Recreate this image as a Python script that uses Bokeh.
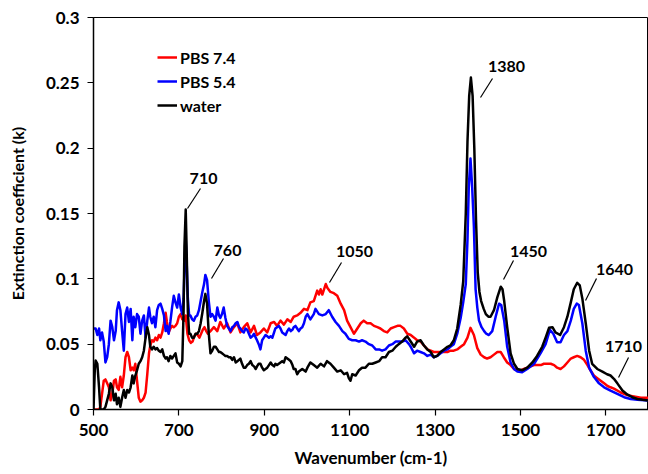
from bokeh.plotting import figure
from bokeh.models import Range1d, FixedTicker, Legend, LegendItem, ColumnDataSource
from bokeh.core.properties import value
from bokeh.embed import file_html
from bokeh.resources import INLINE

# ---------------- data ----------------
pbs74_wn = [500, 505, 509, 513, 516, 520, 524, 528, 532, 536, 540, 544, 548, 552, 555, 559, 563, 567, 571, 575,
            579, 583, 587, 591, 594, 598, 602, 606, 610, 614, 618, 622, 626, 630, 633, 637, 641, 645, 649, 653,
            657, 661, 665, 669, 672, 676, 680, 684, 688, 692, 696, 700, 704, 708, 712, 716, 720, 724, 728, 732,
            736, 740, 744, 748, 752, 756, 760, 764, 768, 774, 782, 790, 797, 805, 813, 821, 829, 837, 844, 852,
            860, 868, 876, 883, 891, 899, 907, 915, 923, 930, 938, 946, 954, 962, 969, 977, 985, 993, 1001, 1008,
            1016, 1024, 1028, 1032, 1036, 1044, 1048, 1055, 1063, 1071, 1079, 1087, 1094, 1102, 1110, 1118, 1126,
            1133, 1141, 1149, 1157, 1165, 1172, 1180, 1188, 1196, 1204, 1212, 1219, 1227, 1235, 1243, 1251, 1258,
            1266, 1274, 1282, 1290, 1297, 1305, 1313, 1321, 1329, 1336, 1344, 1352, 1360, 1368, 1376, 1383, 1391,
            1399, 1407, 1415, 1422, 1430, 1438, 1446, 1454, 1461, 1469, 1477, 1485, 1493, 1500, 1508, 1516, 1524,
            1532, 1540, 1548, 1555, 1563, 1571, 1579, 1586, 1594, 1602, 1610, 1618, 1625, 1633, 1641, 1649, 1657,
            1664, 1672, 1680, 1688, 1696, 1704, 1711, 1719, 1735, 1750, 1766, 1782, 1800]
pbs74_k = [0.0, 0.0, 0.0, 0.0, 0.002, 0.012, 0.022, 0.023, 0.020, 0.017, 0.007, 0.012, 0.022, 0.023, 0.017, 0.015,
           0.025, 0.017, 0.026, 0.040, 0.044, 0.040, 0.030, 0.032, 0.030, 0.035, 0.022, 0.009, 0.006, 0.007, 0.009,
           0.013, 0.027, 0.043, 0.049, 0.053, 0.052, 0.055, 0.053, 0.057, 0.055, 0.059, 0.066, 0.074, 0.067, 0.059,
           0.062, 0.064, 0.063, 0.064, 0.066, 0.071, 0.073, 0.069, 0.068, 0.072, 0.058, 0.053, 0.051, 0.052, 0.056,
           0.058, 0.057, 0.055, 0.058, 0.061, 0.063, 0.060, 0.058, 0.060, 0.063, 0.060, 0.067, 0.062, 0.066, 0.059,
           0.063, 0.066, 0.059, 0.063, 0.066, 0.059, 0.064, 0.057, 0.059, 0.062, 0.059, 0.066, 0.067, 0.064, 0.068,
           0.065, 0.069, 0.067, 0.071, 0.072, 0.074, 0.077, 0.076, 0.082, 0.083, 0.091, 0.088, 0.092, 0.088, 0.096,
           0.093, 0.090, 0.089, 0.087, 0.081, 0.076, 0.068, 0.063, 0.058, 0.062, 0.066, 0.068, 0.066, 0.066, 0.064,
           0.063, 0.062, 0.060, 0.059, 0.062, 0.063, 0.064, 0.064, 0.062, 0.058, 0.057, 0.055, 0.053, 0.052, 0.049,
           0.046, 0.045, 0.044, 0.044, 0.044, 0.044, 0.044, 0.045, 0.045, 0.046, 0.048, 0.050, 0.055, 0.0625, 0.057,
           0.047, 0.042, 0.040, 0.039, 0.040, 0.042, 0.044, 0.044, 0.040, 0.036, 0.034, 0.031, 0.030, 0.030, 0.031,
           0.032, 0.033, 0.034, 0.034, 0.034, 0.035, 0.035, 0.035, 0.034, 0.032, 0.031, 0.033, 0.036, 0.039, 0.040,
           0.041, 0.040, 0.038, 0.034, 0.030, 0.026, 0.024, 0.022, 0.020, 0.018, 0.017, 0.016, 0.013, 0.011, 0.010,
           0.009, 0.009]

pbs54_wn = [500, 505, 509, 513, 516, 520, 524, 528, 532, 536, 540, 544, 548, 552, 555, 559, 563, 567, 571, 575,
            579, 583, 587, 591, 594, 598, 602, 606, 610, 614, 618, 622, 626, 630, 633, 637, 641, 645, 649, 653,
            657, 661, 665, 669, 672, 676, 680, 684, 688, 692, 696, 700, 704, 708, 711, 714, 716, 718, 721, 724,
            727, 731, 735, 739, 743, 747, 751, 755, 759, 762, 766, 770, 774, 778, 782, 786, 790, 794, 797, 801,
            805, 809, 813, 817, 821, 825, 829, 833, 837, 841, 844, 848, 852, 856, 860, 864, 868, 872, 876, 880,
            883, 887, 891, 895, 899, 903, 907, 911, 915, 919, 923, 926, 930, 934, 938, 942, 946, 950, 954, 958,
            962, 966, 969, 973, 977, 981, 985, 989, 993, 997, 1001, 1008, 1016, 1020, 1028, 1036, 1044, 1051, 1059,
            1067, 1075, 1083, 1090, 1098, 1106, 1114, 1122, 1129, 1137, 1145, 1153, 1161, 1169, 1176, 1184, 1192,
            1200, 1208, 1215, 1223, 1231, 1239, 1243, 1251, 1258, 1266, 1274, 1282, 1290, 1297, 1305, 1313, 1321,
            1329, 1336, 1344, 1352, 1360, 1366, 1372, 1376, 1379, 1383, 1387, 1391, 1395, 1399, 1403, 1409, 1415,
            1420, 1426, 1434, 1442, 1450, 1455, 1462, 1469, 1477, 1485, 1493, 1504, 1516, 1532, 1547, 1559, 1569,
            1577, 1586, 1594, 1602, 1610, 1618, 1625, 1632, 1637, 1645, 1653, 1661, 1672, 1684, 1696, 1711, 1727,
            1743, 1758, 1774, 1800]
pbs54_k = [0.062, 0.062, 0.057, 0.062, 0.053, 0.059, 0.052, 0.036, 0.040, 0.050, 0.068, 0.063, 0.053, 0.060, 0.076,
           0.082, 0.076, 0.060, 0.045, 0.073, 0.078, 0.067, 0.077, 0.053, 0.071, 0.063, 0.073, 0.071, 0.058, 0.068,
           0.072, 0.055, 0.068, 0.078, 0.071, 0.066, 0.071, 0.063, 0.076, 0.080, 0.081, 0.077, 0.072, 0.060, 0.064,
           0.058, 0.067, 0.078, 0.087, 0.082, 0.078, 0.088, 0.078, 0.073, 0.085, 0.115, 0.130, 0.115, 0.085, 0.072,
           0.072, 0.069, 0.068, 0.071, 0.072, 0.076, 0.083, 0.090, 0.096, 0.103, 0.099, 0.083, 0.071, 0.073, 0.071,
           0.068, 0.078, 0.072, 0.070, 0.073, 0.078, 0.070, 0.064, 0.062, 0.060, 0.063, 0.064, 0.066, 0.067, 0.063,
           0.062, 0.060, 0.059, 0.062, 0.061, 0.058, 0.055, 0.056, 0.058, 0.055, 0.053, 0.050, 0.046, 0.053, 0.055,
           0.057, 0.056, 0.055, 0.056, 0.055, 0.059, 0.062, 0.063, 0.064, 0.062, 0.059, 0.058, 0.057, 0.060, 0.062,
           0.060, 0.061, 0.063, 0.064, 0.062, 0.060, 0.062, 0.063, 0.066, 0.071, 0.073, 0.069, 0.073, 0.077, 0.073,
           0.072, 0.073, 0.076, 0.071, 0.067, 0.064, 0.060, 0.058, 0.054, 0.053, 0.053, 0.052, 0.053, 0.052, 0.050,
           0.049, 0.046, 0.046, 0.045, 0.046, 0.049, 0.050, 0.052, 0.052, 0.052, 0.053, 0.050, 0.048, 0.043, 0.045,
           0.044, 0.043, 0.041, 0.042, 0.040, 0.041, 0.043, 0.045, 0.046, 0.048, 0.050, 0.058, 0.070, 0.082, 0.096,
           0.130, 0.170, 0.192, 0.170, 0.140, 0.092, 0.078, 0.068, 0.063, 0.060, 0.058, 0.057, 0.060, 0.071, 0.081,
           0.080, 0.068, 0.048, 0.036, 0.031, 0.029, 0.0285, 0.031, 0.035, 0.043, 0.050, 0.061, 0.058, 0.0515, 0.0515,
           0.057, 0.060, 0.068, 0.077, 0.081, 0.080, 0.066, 0.045, 0.032, 0.025, 0.020, 0.017, 0.0145, 0.012, 0.0094,
           0.008, 0.0074, 0.0069]

water_wn = [500, 503, 505, 509, 513, 516, 520, 524, 528, 532, 536, 540, 544, 548, 552, 555, 559, 563, 567, 571,
            575, 579, 583, 587, 591, 594, 598, 602, 606, 610, 614, 618, 622, 626, 630, 633, 637, 641, 645, 649,
            653, 657, 661, 665, 669, 672, 676, 680, 684, 688, 692, 696, 700, 704, 708, 711, 713, 716, 718, 721,
            724, 727, 731, 735, 739, 743, 747, 751, 755, 759, 762, 766, 770, 774, 778, 782, 786, 790, 794, 797,
            801, 805, 809, 813, 817, 821, 825, 829, 833, 837, 841, 844, 848, 852, 856, 860, 864, 868, 872, 876,
            880, 883, 887, 891, 895, 899, 903, 907, 911, 915, 919, 923, 926, 930, 934, 938, 942, 946, 950, 954,
            958, 962, 966, 969, 973, 977, 981, 985, 989, 993, 997, 1001, 1008, 1016, 1024, 1032, 1040, 1047, 1055,
            1063, 1071, 1079, 1087, 1094, 1098, 1102, 1106, 1114, 1122, 1129, 1137, 1145, 1153, 1161, 1169, 1176,
            1184, 1192, 1200, 1208, 1215, 1223, 1231, 1235, 1243, 1251, 1258, 1266, 1274, 1282, 1290, 1297, 1305,
            1313, 1321, 1329, 1336, 1344, 1352, 1360, 1366, 1372, 1376, 1380, 1384, 1388, 1392, 1396, 1400, 1404,
            1408, 1414, 1419, 1425, 1430, 1438, 1446, 1454, 1458, 1462, 1469, 1477, 1485, 1493, 1504, 1516, 1528,
            1539, 1551, 1559, 1567, 1575, 1582, 1593, 1602, 1610, 1618, 1625, 1633, 1639, 1645, 1653, 1661, 1668,
            1680, 1692, 1703, 1711, 1719, 1727, 1739, 1750, 1762, 1774, 1786, 1800]
water_k = [0.0, 0.030, 0.0375, 0.035, 0.017, 0.0, 0.0, 0.0, 0.002, 0.007, 0.012, 0.020, 0.017, 0.007, 0.012, 0.004,
           0.009, 0.002, 0.009, 0.015, 0.009, 0.015, 0.013, 0.017, 0.026, 0.020, 0.026, 0.030, 0.035, 0.037, 0.040,
           0.045, 0.055, 0.063, 0.057, 0.048, 0.046, 0.048, 0.046, 0.047, 0.045, 0.044, 0.046, 0.041, 0.039, 0.040,
           0.037, 0.041, 0.039, 0.041, 0.043, 0.036, 0.035, 0.033, 0.037, 0.075, 0.125, 0.153, 0.125, 0.075, 0.058,
           0.058, 0.055, 0.055, 0.058, 0.058, 0.060, 0.066, 0.074, 0.083, 0.0885, 0.081, 0.058, 0.043, 0.045, 0.048,
           0.048, 0.046, 0.044, 0.044, 0.043, 0.042, 0.041, 0.041, 0.040, 0.040, 0.038, 0.040, 0.036, 0.037, 0.038,
           0.039, 0.035, 0.032, 0.032, 0.034, 0.035, 0.037, 0.034, 0.033, 0.031, 0.033, 0.035, 0.035, 0.032, 0.030,
           0.031, 0.032, 0.034, 0.036, 0.034, 0.033, 0.035, 0.034, 0.035, 0.036, 0.037, 0.036, 0.040, 0.039, 0.038,
           0.037, 0.034, 0.031, 0.031, 0.027, 0.029, 0.030, 0.031, 0.030, 0.029, 0.032, 0.036, 0.034, 0.032, 0.035,
           0.033, 0.037, 0.035, 0.032, 0.029, 0.030, 0.027, 0.028, 0.024, 0.022, 0.027, 0.026, 0.030, 0.032, 0.032,
           0.035, 0.035, 0.036, 0.037, 0.040, 0.040, 0.044, 0.045, 0.048, 0.050, 0.052, 0.055, 0.056, 0.052, 0.048,
           0.052, 0.053, 0.049, 0.046, 0.044, 0.040, 0.041, 0.044, 0.046, 0.048, 0.049, 0.053, 0.062, 0.080, 0.098,
           0.150, 0.205, 0.240, 0.254, 0.240, 0.200, 0.145, 0.105, 0.090, 0.083, 0.077, 0.073, 0.071, 0.071, 0.076,
           0.086, 0.094, 0.092, 0.083, 0.063, 0.043, 0.035, 0.031, 0.030, 0.032, 0.036, 0.041, 0.048, 0.055, 0.0625,
           0.063, 0.059, 0.057, 0.063, 0.071, 0.082, 0.092, 0.097, 0.095, 0.085, 0.066, 0.045, 0.035, 0.031, 0.029,
           0.027, 0.026, 0.0235, 0.020, 0.0145, 0.0115, 0.0094, 0.008, 0.0074, 0.0069]

series_names = ["PBS 7.4", "PBS 5.4", "water"]
series_colors = ["#ff0000", "#0000ff", "#000000"]

x_ticks = [500, 700, 900, 1100, 1300, 1500, 1700]
y_ticks = [0, 0.05, 0.1, 0.15, 0.2, 0.25, 0.3]
y_tick_labels = ["0", "0.05", "0.1", "0.15", "0.2", "0.25", "0.3"]

# peak annotations: label, text centre (wavenumber, k), leader line start/end
peak_labels = ["710", "760", "1050", "1380", "1450", "1640", "1710"]
peak_text_x = [757.7, 813.9, 1111.4, 1467.4, 1518.9, 1720.4, 1741.5]
peak_text_y = [0.1768, 0.1217, 0.1209, 0.2625, 0.1209, 0.1071, 0.0482]
lead_x0 = [750.6, 804.5, 1080.9, 1434.6, 1483.8, 1678.2, 1753.2]
lead_y0 = [0.1691, 0.1156, 0.1125, 0.2533, 0.1140, 0.1003, 0.0398]
lead_x1 = [720.2, 776.4, 1052.8, 1406.5, 1460.4, 1652.5, 1729.8]
lead_y1 = [0.1538, 0.1003, 0.0972, 0.2388, 0.0995, 0.0834, 0.0245]

FONT = "Lato"

p = figure(width=648, height=474, output_backend="svg", toolbar_location=None,
           x_range=Range1d(500, 1800), y_range=Range1d(0, 0.3),
           min_border_left=93, min_border_right=0, min_border_top=17, min_border_bottom=65)
p.xgrid.visible = False
p.ygrid.visible = False
p.outline_line_color = "#000000"
p.outline_line_width = 1
p.background_fill_color = "white"
p.border_fill_color = "white"

renderers = []
for wn, kk, c in [(pbs74_wn, pbs74_k, series_colors[0]),
                  (pbs54_wn, pbs54_k, series_colors[1]),
                  (water_wn, water_k, series_colors[2])]:
    r = p.line(wn, kk, line_color=c, line_width=2.5, line_join="round")
    renderers.append(r)

legend = Legend(items=[LegendItem(label=n, renderers=[r]) for n, r in zip(series_names, renderers)],
                location=(64, 294), orientation="vertical",
                border_line_alpha=0, background_fill_alpha=0,
                padding=0, margin=0, spacing=4, label_standoff=3,
                glyph_width=20, glyph_height=20, label_height=20,
                label_text_font=FONT, label_text_font_style="bold", label_text_font_size="16px",
                label_text_color="#000000")
p.add_layout(legend)

src = ColumnDataSource(dict(x0=lead_x0, y0=lead_y0, x1=lead_x1, y1=lead_y1))
p.segment(x0="x0", y0="y0", x1="x1", y1="y1", source=src, line_color="#000000", line_width=1.2)
tsrc = ColumnDataSource(dict(x=peak_text_x, y=peak_text_y, t=peak_labels))
p.text(x="x", y="y", text="t", source=tsrc, text_align="center", text_baseline="middle",
       text_font=value(FONT), text_font_style="bold", text_font_size="16px", text_color="#000000")

for ax in (p.xaxis[0], p.yaxis[0]):
    ax.axis_line_color = "#000000"
    ax.axis_line_width = 1.5
    ax.major_tick_line_color = "#000000"
    ax.major_tick_line_width = 1.2
    ax.major_tick_in = 0
    ax.major_tick_out = 6
    ax.minor_tick_line_color = None
    ax.major_label_text_font = FONT
    ax.major_label_text_font_style = "bold"
    ax.major_label_text_font_size = "17px"
    ax.major_label_text_color = "#000000"
    ax.axis_label_text_font = FONT
    ax.axis_label_text_font_style = "bold"
    ax.axis_label_text_color = "#000000"

p.xaxis.axis_label_text_font_size = "17px"
p.yaxis.axis_label_text_font_size = "16px"
p.xaxis.ticker = FixedTicker(ticks=x_ticks)
p.yaxis.ticker = FixedTicker(ticks=y_ticks)
p.yaxis.major_label_overrides = {t: l for t, l in zip(y_ticks, y_tick_labels)}
p.xaxis.axis_label = "Wavenumber (cm-1)"
p.yaxis.axis_label = "Extinction coefficient (k)"
p.xaxis.major_label_standoff = 8
p.yaxis.major_label_standoff = 8
p.xaxis.axis_label_standoff = 8
p.yaxis.axis_label_standoff = 16

open("out.html", "w").write(file_html(p, INLINE))
